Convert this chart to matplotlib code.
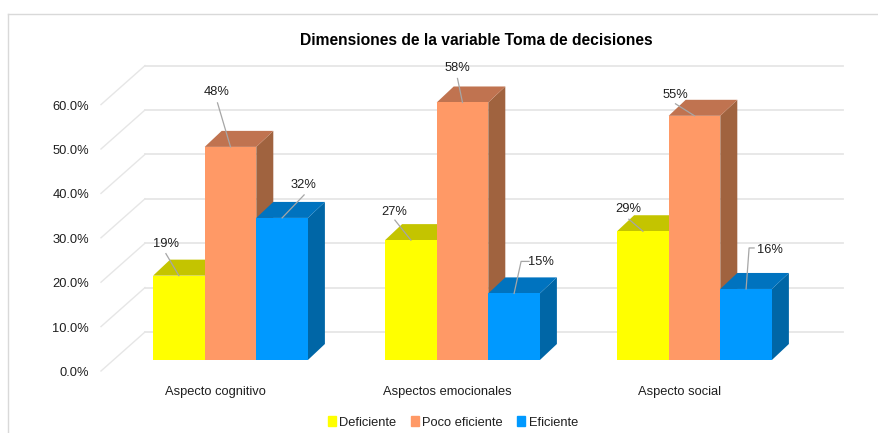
import matplotlib
matplotlib.use("Agg")
import matplotlib.pyplot as plt
from matplotlib.patches import Patch, Polygon, Rectangle

plt.rcParams['font.family'] = ['Liberation Sans', 'DejaVu Sans']

categories = ["Aspecto cognitivo", "Aspectos emocionales", "Aspecto social"]
series_names = ["Deficiente", "Poco eficiente", "Eficiente"]
deficiente = [19, 27, 29]
poco_eficiente = [48, 58, 55]
eficiente = [32, 15, 16]
y_ticks = [0, 10, 20, 30, 40, 50, 60]

# front, top, side
colors = [("#FFFF00", "#C4C400", "#C4C400"),
          ("#FF9966", "#C07350", "#A0633F"),
          ("#0099FF", "#0073BF", "#0066A6")]

W, H = 879, 433
PX_X = 232.0   # pixels for one category
PX_Y = 4.44    # pixels for one percent
X0, Y0 = 230.5, 360.0   # pixel of category 0 / 0%

def dx(p):
    return p / PX_X

def dy(p):
    return p / PX_Y

fig = plt.figure(figsize=(W / 100, H / 100), dpi=100)
ax = fig.add_axes([0, 0, 1, 1])
ax.set_xlim(-X0 / PX_X, (W - X0) / PX_X)
ax.set_ylim(-(H - Y0) / PX_Y, Y0 / PX_Y)
ax.axis("off")

txt_c = "#1F1F1F"
grid_c = "#E6E6E6"
wall_left = dx(145 - X0)
wall_right = dx(843 - X0)
floor_up = dy(28)
for t in y_ticks:
    yb = t + floor_up
    ax.plot([wall_left, wall_right], [yb, yb], color=grid_c, lw=1.3, zorder=1)
    ax.plot([wall_left - dx(44), wall_left], [yb - dy(39), yb], color=grid_c, lw=1.0, zorder=1)
    ax.text(wall_left - dx(56), yb - dy(41), f"{t:.1f}%", ha="right", va="center",
            fontsize=9.3, color=txt_c)

bar_w = dx(51.6)
depth_x, depth_y = dx(17), dy(16)
series = [deficiente, poco_eficiente, eficiente]

# back to front so the neighbour covers the side face
for i in range(len(categories)):
    for j in range(len(series)):
        v = series[j][i]
        left = i + (j - 1.5) * bar_w
        right = left + bar_w
        front, top, side = colors[j]
        ax.add_patch(Polygon([(right, 0), (right + depth_x, depth_y), (right + depth_x, v + depth_y), (right, v)],
                             color=side, lw=0, zorder=2 + j))
        ax.add_patch(Polygon([(left, v), (left + depth_x, v + depth_y), (right + depth_x, v + depth_y), (right, v)],
                             color=top, lw=0, zorder=2 + j))
        ax.add_patch(Rectangle((left, 0), bar_w, v, color=front, lw=0, zorder=2 + j))

# leader lines: pixel offsets from the centre of each bar's top edge
leaders = {
    (0, 0): [(-13, -22)], (0, 1): [(-13, -44)], (0, 2): [(22, -23)],
    (1, 0): [(-16, -20)], (1, 1): [(-5, -24)], (1, 2): [(7, -32), (15, -32)],
    (2, 0): [(-14, -12)], (2, 1): [(-19, -12)], (2, 2): [(3, -41), (8, -41)],
}
label_pos = {
    (0, 0): (-13, -32), (0, 1): (-14, -55), (0, 2): (21, -33),
    (1, 0): (-17, -28), (1, 1): (-5, -34), (1, 2): (27, -31),
    (2, 0): (-15, -22), (2, 1): (-19, -21), (2, 2): (24, -39),
}
for (i, j), pts in leaders.items():
    v = series[j][i]
    cx = i + (j - 1) * bar_w
    xs = [cx] + [cx + dx(p[0]) for p in pts]
    ys = [v] + [v - dy(p[1]) for p in pts]
    ax.plot(xs, ys, color="#A6A6A6", lw=0.9, zorder=10)
    lx, ly = label_pos[(i, j)]
    ax.text(cx + dx(lx), v - dy(ly), f"{v}%", ha="center", va="center",
            fontsize=9.3, color=txt_c, zorder=11)

for i, c in enumerate(categories):
    ax.text(i - dx(15.5), dy(Y0 - 391.5), c, ha="center", va="center", fontsize=9.3, color=txt_c)

ax.text(dx(476 - X0), dy(Y0 - 40.5), "Dimensiones de la variable Toma de decisiones",
        ha="center", va="center", fontsize=11.25, fontweight="bold", color="black")

# chart frame, only top and left visible in the crop
ax.plot([dx(8 - X0), dx(8 - X0)], [dy(Y0 - 14), dy(Y0 - H)], color="#D9D9D9", lw=1.0)
ax.plot([dx(8 - X0), dx(W - X0)], [dy(Y0 - 14), dy(Y0 - 14)], color="#D9D9D9", lw=1.0)

handles = [Patch(color=colors[k][0], label=series_names[k]) for k in range(3)]
ax.legend(handles=handles, ncols=3, frameon=False, fontsize=9.3, loc="center",
          bbox_to_anchor=(453 / W, 1 - 422.5 / H), handlelength=0.6, handleheight=0.7,
          handletextpad=0.3, columnspacing=1.1, labelcolor=txt_c)

fig.savefig("out.png", dpi=100)
